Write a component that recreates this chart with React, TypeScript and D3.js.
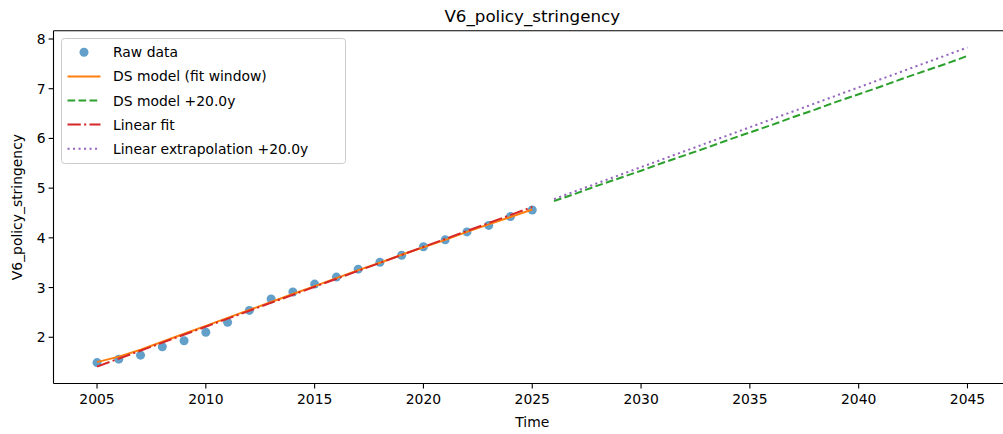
import React from "react";
import * as d3 from "d3";

const rawYears = [2005, 2006, 2007, 2008, 2009, 2010, 2011, 2012, 2013, 2014, 2015, 2016, 2017, 2018, 2019, 2020, 2021, 2022, 2023, 2024, 2025];
const rawValues = [1.49, 1.56, 1.64, 1.81, 1.93, 2.10, 2.30, 2.54, 2.77, 2.91, 3.07, 3.21, 3.37, 3.51, 3.65, 3.82, 3.96, 4.12, 4.25, 4.43, 4.56];

const dsFitValues = [1.50, 1.61, 1.75, 1.91, 2.07, 2.23, 2.39, 2.55, 2.71, 2.87, 3.03, 3.19, 3.35, 3.50, 3.66, 3.81, 3.96, 4.12, 4.27, 4.42, 4.57];

const forecastYears = [2026, 2027, 2028, 2029, 2030, 2031, 2032, 2033, 2034, 2035, 2036, 2037, 2038, 2039, 2040, 2041, 2042, 2043, 2044, 2045];
const dsForecastValues = [4.74, 4.89, 5.05, 5.20, 5.35, 5.51, 5.66, 5.81, 5.97, 6.12, 6.27, 6.43, 6.58, 6.74, 6.89, 7.04, 7.20, 7.35, 7.50, 7.66];

const linFitYears = [2005, 2025];
const linFitValues = [1.41, 4.62];
const linExtYears = [2026, 2045];
const linExtValues = [4.78, 7.83];

const xTicks = [2005, 2010, 2015, 2020, 2025, 2030, 2035, 2040, 2045];
const yTicks = [2, 3, 4, 5, 6, 7, 8];

const legendLabels = ["Raw data", "DS model (fit window)", "DS model +20.0y", "Linear fit", "Linear extrapolation +20.0y"];

const W = 1003, H = 434;
const left = 53.5, right = 1011, top = 30.7, bottom = 383.5;
const font = "DejaVu Sans, sans-serif";

export default function App() {
  const x = d3.scaleLinear().domain([2003, 2047]).range([left, right]);
  const y = d3.scaleLinear().domain([1.07, 8.167]).range([bottom, top]);
  const line = d3.line<[number, number]>().x(d => x(d[0])).y(d => y(d[1]));
  const zip = (a: number[], b: number[]) => a.map((v, i) => [v, b[i]] as [number, number]);

  const styles = [
    { color: "#ff7f0e", dash: "" },
    { color: "#2ca02c", dash: "7.7,3.3" },
    { color: "#d62728", dash: "13.3,3.3,2.1,3.3" },
    { color: "#9467bd", dash: "2.1,3.4" },
  ];

  const legX = 61.5, legY = 38.5, legW = 284, legH = 125;
  const rowY = [52.3, 76.4, 100.5, 124.6, 148.7];

  return (
    <div style={{ position: "absolute", left: 0, top: 0 }}>
      <svg width={W} height={H} style={{ display: "block", fontFamily: font }}>
        <rect width={W} height={H} fill="#fff" />
        <defs>
          <clipPath id="plot">
            <rect x={left} y={top} width={right - left} height={bottom - top} />
          </clipPath>
        </defs>
        <g clipPath="url(#plot)">
          {rawYears.map((yr, i) => (
            <circle key={i} cx={x(yr)} cy={y(rawValues[i])} r={4.5} fill="#1f77b4" fillOpacity={0.7} />
          ))}
          <path d={line(zip(rawYears, dsFitValues))!} fill="none" stroke={styles[0].color} strokeWidth={2} />
          <path d={line(zip(forecastYears, dsForecastValues))!} fill="none" stroke={styles[1].color} strokeWidth={2} strokeDasharray={styles[1].dash} />
          <path d={line(zip(linFitYears, linFitValues))!} fill="none" stroke={styles[2].color} strokeWidth={2} strokeDasharray={styles[2].dash} />
          <path d={line(zip(linExtYears, linExtValues))!} fill="none" stroke={styles[3].color} strokeWidth={2} strokeDasharray={styles[3].dash} />
        </g>
        {/* spines */}
        <line x1={left} x2={left} y1={top} y2={bottom} stroke="#000" strokeWidth={1.1} />
        <line x1={left} x2={right} y1={bottom} y2={bottom} stroke="#000" strokeWidth={1.1} />
        <line x1={left} x2={right} y1={top} y2={top} stroke="#000" strokeWidth={1.1} />
        <line x1={right} x2={right} y1={top} y2={bottom} stroke="#000" strokeWidth={1.1} />
        {/* x ticks */}
        {xTicks.map(t => (
          <g key={t}>
            <line x1={x(t)} x2={x(t)} y1={bottom} y2={bottom + 4.9} stroke="#000" strokeWidth={1.1} />
            <text x={x(t)} y={bottom + 20} textAnchor="middle" fontSize={13.9} fill="#000">{t}</text>
          </g>
        ))}
        {yTicks.map(t => (
          <g key={t}>
            <line x1={left - 4.9} x2={left} y1={y(t)} y2={y(t)} stroke="#000" strokeWidth={1.1} />
            <text x={left - 8} y={y(t) + 5} textAnchor="end" fontSize={13.9} fill="#000">{t}</text>
          </g>
        ))}
        <text x={(left + right) / 2} y={22} textAnchor="middle" fontSize={16.7} fill="#000">V6_policy_stringency</text>
        <text x={(left + right) / 2} y={427} textAnchor="middle" fontSize={13.9} fill="#000">Time</text>
        <text transform={`translate(22,${(top + bottom) / 2}) rotate(-90)`} textAnchor="middle" fontSize={13.9} fill="#000">V6_policy_stringency</text>
        {/* legend */}
        <rect x={legX} y={legY} width={legW} height={legH} rx={3} fill="#fff" fillOpacity={0.8} stroke="#cccccc" strokeWidth={1} />
        <circle cx={84} cy={rowY[0]} r={4.5} fill="#1f77b4" fillOpacity={0.7} />
        {styles.map((s, i) => (
          <line key={i} x1={67.5} x2={100.5} y1={rowY[i + 1]} y2={rowY[i + 1]} stroke={s.color} strokeWidth={2} strokeDasharray={s.dash || undefined} />
        ))}
        {legendLabels.map((l, i) => (
          <text key={l} x={113} y={rowY[i] + 5} fontSize={13.9} fill="#000">{l}</text>
        ))}
      </svg>
    </div>
  );
}
